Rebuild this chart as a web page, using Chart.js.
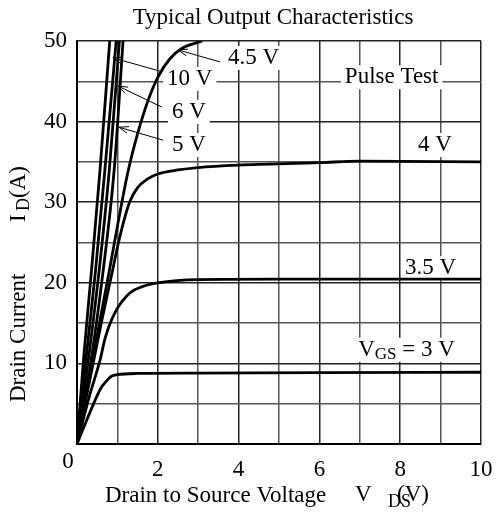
<!DOCTYPE html>
<html>
<head>
<meta charset="utf-8">
<script src="https://cdn.jsdelivr.net/npm/chart.js@4.4.1/dist/chart.umd.min.js"></script>
<style>
  html, body { margin: 0; padding: 0; background: #fff; }
  canvas { display: block; }
</style>
</head>
<body>
<canvas id="chart" width="496" height="513"></canvas>
<script>
// Output curves, I_D (A) vs V_DS (V)
const vgs10X = [0, 0.16, 0.36, 0.57, 0.81];
const vgs10Y = [0, 10.4, 21.6, 34, 50];
const vgs8X = [0, 0.22, 0.46, 0.69, 0.97];
const vgs8Y = [0, 10.4, 21.6, 34, 50];
const vgs6X = [0, 0.28, 0.55, 0.80, 1.05];
const vgs6Y = [0, 10.4, 21.6, 34, 50];
const vgs5X = [0, 0.35, 0.65, 0.92, 1.14];
const vgs5Y = [0, 10.4, 21.6, 34, 50];
const vgs45X = [0, 0.5, 0.8, 1.0, 1.25, 1.5, 1.75, 2.0, 2.3, 2.6, 3.1];
const vgs45Y = [0, 13.5, 21.5, 27, 33.5, 38.5, 42.5, 45.5, 47.8, 49.1, 50];
const vgs4X = [0, 0.3, 0.6, 0.9, 1.0, 1.15, 1.3, 1.5, 1.75, 2, 2.5, 3, 4, 6, 7, 10];
const vgs4Y = [0, 7.5, 15, 22, 24.4, 27.5, 30, 31.8, 32.9, 33.5, 34.0, 34.3, 34.6, 34.9, 35.1, 35.0];
const vgs35X = [0, 0.3, 0.57, 0.7, 0.94, 1.3, 1.6, 2, 3, 5, 10];
const vgs35Y = [0, 5.8, 10.4, 13.2, 16.3, 18.7, 19.5, 20, 20.4, 20.45, 20.45];
const vgs3X = [0, 0.42, 0.6, 0.71, 0.85, 1.0, 1.5, 3, 6, 10];
const vgs3Y = [0, 5.1, 7.0, 7.7, 8.4, 8.6, 8.75, 8.8, 8.85, 8.9];

const xTickLabels = ['2', '4', '6', '8', '10'];
const yTickLabels = ['10', '20', '30', '40', '50'];

const FONT = "'Liberation Serif', 'DejaVu Serif', serif";
const SIZE = 23;

function toPoints(xs, ys) {
    return xs.map((x, i) => ({ x: x, y: ys[i] }));
}

function curve(xs, ys) {
    return {
        data: toPoints(xs, ys),
        borderColor: '#000',
        borderWidth: 2.8,
        pointRadius: 0,
        fill: false,
        cubicInterpolationMode: 'monotone'
    };
}

// Text labels placed in data coordinates
const curveLabels = [
    { text: '4.5 V', x: 3.74, y: 47.9, from: [3.54, 47.4], to: [2.5, 48.9] },
    { text: '10 V', x: 2.23, y: 45.3, from: [2.1, 46.2], to: [0.89, 47.9] },
    { text: '6 V', x: 2.35, y: 41.2, from: [2.1, 41.8], to: [1.02, 44.4] },
    { text: '5 V', x: 2.35, y: 37.1, from: [2.13, 37.7], to: [1.04, 39.3] },
    { text: 'Pulse Test', x: 6.63, y: 45.5 },
    { text: '4 V', x: 8.44, y: 37.1 },
    { text: '3.5 V', x: 8.12, y: 21.8 },
    { text: 'V', sub: 'GS', rest: ' = 3 V', x: 6.96, y: 11.7 }
];

function labelWidth(ctx, l) {
    ctx.font = SIZE + 'px ' + FONT;
    let w = ctx.measureText(l.text).width;
    if (l.sub) {
        ctx.font = '17px ' + FONT;
        w += ctx.measureText(l.sub).width;
        ctx.font = SIZE + 'px ' + FONT;
        w += ctx.measureText(l.rest).width;
    }
    return w;
}

const decorations = {
    id: 'decorations',
    beforeDatasetsDraw(chart) {
        const ctx = chart.ctx;
        const xs = chart.scales.x, ys = chart.scales.y;
        ctx.save();
        ctx.fillStyle = '#fff';
        curveLabels.forEach(l => {
            const px = xs.getPixelForValue(l.x);
            const py = ys.getPixelForValue(l.y);
            const w = labelWidth(ctx, l);
            ctx.fillRect(px - 4, py - 12, w + 8, 24);
        });
        ctx.restore();
    },
    afterDraw(chart) {
        const ctx = chart.ctx;
        const xs = chart.scales.x, ys = chart.scales.y;
        ctx.save();
        ctx.fillStyle = '#000';
        ctx.strokeStyle = '#000';

        // title
        ctx.font = SIZE + 'px ' + FONT;
        ctx.textAlign = 'center';
        ctx.textBaseline = 'middle';
        ctx.fillText('Typical Output Characteristics', 273, 18);

        // shared zero at the corner
        ctx.fillText('0', 68, 462);

        // curve labels and arrows
        ctx.textAlign = 'left';
        curveLabels.forEach(l => {
            let px = xs.getPixelForValue(l.x);
            const py = ys.getPixelForValue(l.y);
            ctx.font = SIZE + 'px ' + FONT;
            ctx.fillText(l.text, px, py);
            if (l.sub) {
                px += ctx.measureText(l.text).width;
                ctx.font = '17px ' + FONT;
                ctx.fillText(l.sub, px, py + 5);
                px += ctx.measureText(l.sub).width;
                ctx.font = SIZE + 'px ' + FONT;
                ctx.fillText(l.rest, px, py);
            }
            if (l.from) {
                const x0 = xs.getPixelForValue(l.from[0]), y0 = ys.getPixelForValue(l.from[1]);
                const x1 = xs.getPixelForValue(l.to[0]), y1 = ys.getPixelForValue(l.to[1]);
                const a = Math.atan2(y1 - y0, x1 - x0);
                ctx.lineWidth = 1;
                ctx.beginPath();
                ctx.moveTo(x0, y0);
                ctx.lineTo(x1, y1);
                ctx.moveTo(x1 - 10 * Math.cos(a - 0.35), y1 - 10 * Math.sin(a - 0.35));
                ctx.lineTo(x1, y1);
                ctx.lineTo(x1 - 10 * Math.cos(a + 0.35), y1 - 10 * Math.sin(a + 0.35));
                ctx.stroke();
            }
        });

        // x axis title
        ctx.font = SIZE + 'px ' + FONT;
        ctx.textBaseline = 'middle';
        ctx.fillText('Drain to Source Voltage', 105, 496);
        ctx.fillText('V', 355, 495);
        ctx.fillText('(V)', 397, 495);
        ctx.font = '18px ' + FONT;
        ctx.fillText('DS', 388, 502);

        // y axis title (rotated)
        ctx.translate(19, 0);
        ctx.rotate(-Math.PI / 2);
        ctx.font = SIZE + 'px ' + FONT;
        ctx.fillText('Drain Current', -402, 0);
        ctx.fillText('I', -222, 0);
        ctx.fillText('(A)', -198, 0);
        ctx.font = '18px ' + FONT;
        ctx.fillText('D', -211, 5);
        ctx.restore();
    }
};

new Chart(document.getElementById('chart'), {
    type: 'line',
    data: {
        datasets: [
            curve(vgs10X, vgs10Y),
            curve(vgs8X, vgs8Y),
            curve(vgs6X, vgs6Y),
            curve(vgs5X, vgs5Y),
            curve(vgs45X, vgs45Y),
            curve(vgs4X, vgs4Y),
            curve(vgs35X, vgs35Y),
            curve(vgs3X, vgs3Y)
        ]
    },
    options: {
        responsive: false,
        animation: false,
        devicePixelRatio: 1,
        layout: { padding: { top: 41, right: 15, left: 0, bottom: 0 } },
        plugins: {
            legend: { display: false },
            tooltip: { enabled: false }
        },
        scales: {
            x: {
                type: 'linear',
                min: 0,
                max: 10,
                afterFit: scale => {
                    scale.height = 69;
                    scale.paddingLeft = 0;
                    scale.paddingRight = 0;
                },
                grid: {
                    drawTicks: false,
                    color: ctx => ctx.tick && ctx.tick.value % 2 === 0 ? '#222' : '#555',
                    lineWidth: 1.5
                },
                border: { color: '#000', width: 2 },
                ticks: {
                    stepSize: 1,
                    padding: 12,
                    color: '#000',
                    font: { family: FONT, size: SIZE },
                    maxRotation: 0,
                    autoSkip: false,
                    callback: v => xTickLabels.includes(String(v)) ? String(v) : ''
                }
            },
            y: {
                type: 'linear',
                min: 0,
                max: 50,
                afterFit: scale => {
                    scale.width = 77;
                    scale.paddingTop = 0;
                    scale.paddingBottom = 0;
                },
                grid: {
                    drawTicks: false,
                    color: ctx => ctx.tick && ctx.tick.value % 10 === 0 ? '#222' : '#555',
                    lineWidth: 1.5
                },
                border: { color: '#000', width: 2 },
                ticks: {
                    stepSize: 5,
                    padding: 10,
                    color: '#000',
                    font: { family: FONT, size: SIZE },
                    autoSkip: false,
                    callback: v => yTickLabels.includes(String(v)) ? String(v) : ''
                }
            }
        }
    },
    plugins: [decorations]
});
</script>
</body>
</html>
